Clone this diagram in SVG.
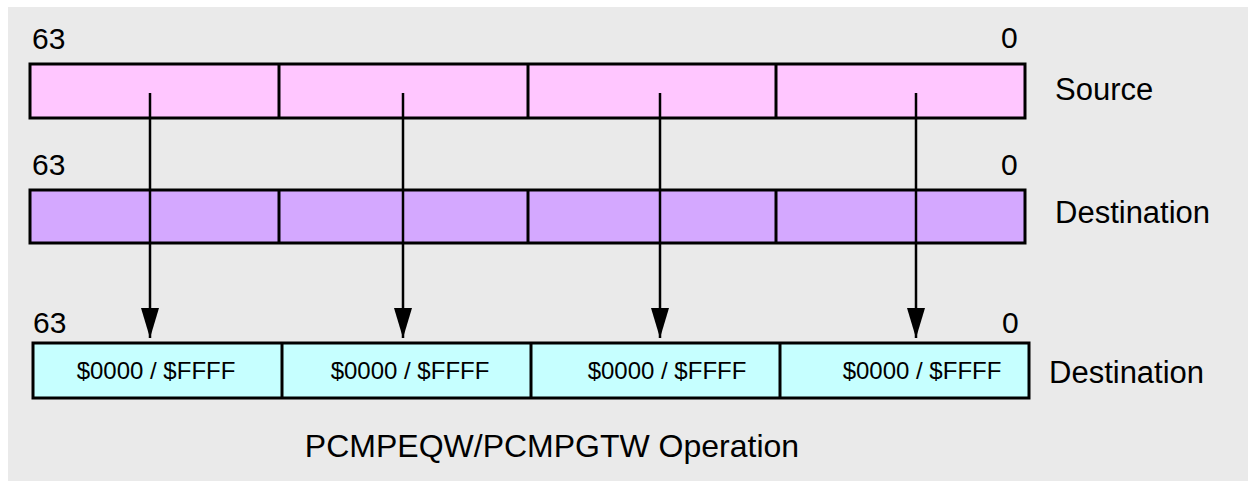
<svg xmlns="http://www.w3.org/2000/svg" width="1248" height="481" viewBox="0 0 1248 481">
<defs>
<style>
text{font-family:"Liberation Sans",Arial,sans-serif;fill:#000}
.bit{font-size:30px}
.lbl{font-size:31px}
.val{font-size:24px;text-anchor:middle}
.title{font-size:32px;text-anchor:middle}
.box{stroke:#000;stroke-width:3}
.div{stroke:#000;stroke-width:3}
.arr{stroke:#000;stroke-width:2.5;fill:none}
</style>
<marker id="ah" markerUnits="userSpaceOnUse" markerWidth="32" markerHeight="20" refX="30" refY="10" orient="auto" viewBox="0 0 32 20">
<path d="M0,1 L30,10 L0,19 Z" fill="#000"/>
</marker>
</defs>
<rect x="0" y="0" width="1248" height="481" fill="#fff"/>
<rect x="8" y="7" width="1240" height="474" fill="#EAEAEA"/>

<g id="source">
<text class="bit" x="32" y="49">63</text>
<text class="bit" x="1001" y="48">0</text>
<rect class="box" x="30" y="64" width="995" height="54" fill="#FFC6FF"/>
<line class="div" x1="279" y1="64" x2="279" y2="118"/>
<line class="div" x1="528" y1="64" x2="528" y2="118"/>
<line class="div" x1="776" y1="64" x2="776" y2="118"/>
<text class="lbl" x="1055" y="100">Source</text>
</g>

<g id="destination">
<text class="bit" x="32" y="175">63</text>
<text class="bit" x="1001" y="175">0</text>
<rect class="box" x="30" y="190" width="995" height="53" fill="#D4A8FF"/>
<line class="div" x1="279" y1="190" x2="279" y2="243"/>
<line class="div" x1="528" y1="190" x2="528" y2="243"/>
<line class="div" x1="776" y1="190" x2="776" y2="243"/>
<text class="lbl" x="1055" y="223">Destination</text>
</g>

<g id="result">
<text class="bit" x="33" y="333">63</text>
<text class="bit" x="1002" y="333">0</text>
<rect class="box" x="33" y="343" width="996" height="55" fill="#C6FFFF"/>
<line class="div" x1="282" y1="343" x2="282" y2="398"/>
<line class="div" x1="531" y1="343" x2="531" y2="398"/>
<line class="div" x1="780" y1="343" x2="780" y2="398"/>
<text class="val" x="156" y="379">$0000 / $FFFF</text>
<text class="val" x="410" y="379">$0000 / $FFFF</text>
<text class="val" x="667" y="379">$0000 / $FFFF</text>
<text class="val" x="922" y="379">$0000 / $FFFF</text>
<text class="lbl" x="1049" y="383">Destination</text>
</g>

<g id="connectors">
<line class="arr" x1="150" y1="93" x2="150" y2="338" marker-end="url(#ah)"/>
<line class="arr" x1="403" y1="93" x2="403" y2="338" marker-end="url(#ah)"/>
<line class="arr" x1="660" y1="93" x2="660" y2="338" marker-end="url(#ah)"/>
<line class="arr" x1="916" y1="93" x2="916" y2="338" marker-end="url(#ah)"/>
</g>

<g id="caption">
<text class="title" x="552" y="457">PCMPEQW/PCMPGTW Operation</text>
</g>
</svg>
